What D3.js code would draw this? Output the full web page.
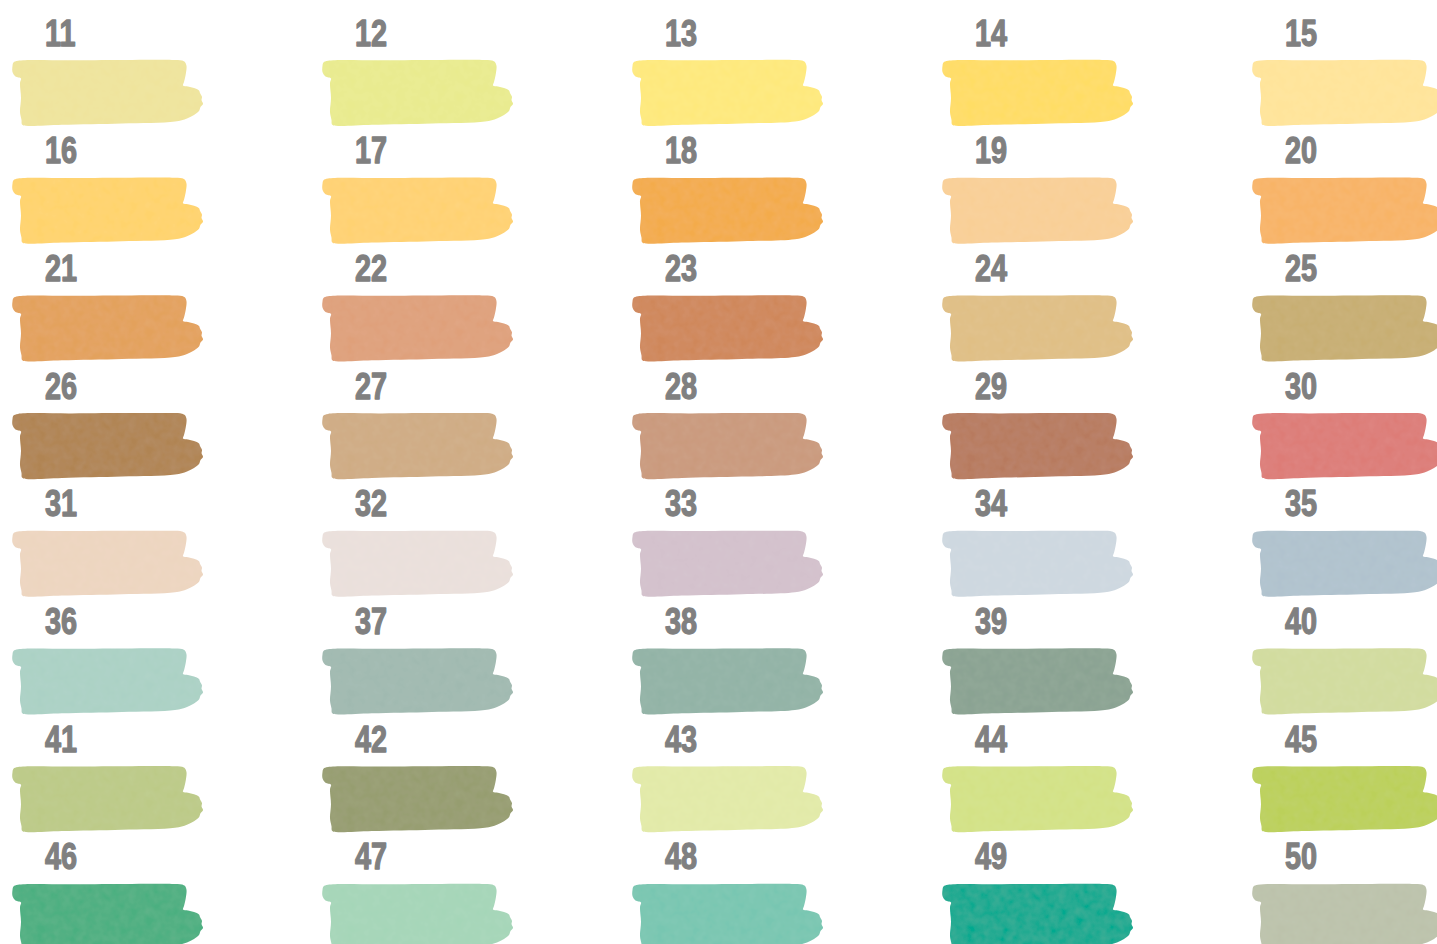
<!DOCTYPE html>
<html>
<head>
<meta charset="utf-8">
<script src="https://cdn.jsdelivr.net/npm/d3@7"></script>
<style>
  html, body { margin: 0; padding: 0; background: #ffffff; overflow: hidden; }
  svg { display: block; }
</style>
</head>
<body>
<svg id="chart" width="1437" height="944"></svg>
<script>
// ---- Data ----
const labels = ["11","12","13","14","15","16","17","18","19","20",
                "21","22","23","24","25","26","27","28","29","30",
                "31","32","33","34","35","36","37","38","39","40",
                "41","42","43","44","45","46","47","48","49","50"];
const colors = ["#efe49c","#e9eb8e","#fee97c","#ffdd65","#ffe49a",
                "#ffd36c","#ffd272","#f3ab4b","#f9cf96","#f8b466",
                "#e3a15c","#dfa07a","#cf875a","#e0bf85","#c8ae72",
                "#b08452","#cfac84","#ca9a7d","#b77a5f","#dd7c77",
                "#edd5c0","#eae0db","#d3c1cc","#ced8e0","#b0c2ce",
                "#abd1c5","#a0b9b0","#92b3a6","#8aa392","#d2dc9f",
                "#bcca87","#969d6f","#e2eaa8","#d3e286","#bbd05a",
                "#4caf80","#a5d6b8","#78c6b1","#03a98f","#bcc2ab"];
const nCols = 5;
const nRows = 8;

// ---- Layout ----
const svg = d3.select("#chart");
const xCol = d3.scaleLinear().domain([0, nCols - 1]).range([12, 12 + 310 * 4]);
const yRow = d3.scaleLinear().domain([0, nRows - 1]).range([60, 60 + 117.7 * 7]);

// brush-stroke swatch outline (relative to swatch's top-left)
const stroke = [[0.5,6],[1.5,2.5],[6,0.8],[60,0.3],[120,0],[160,0],[170,0.6],[173,2.2],[174.5,6],
  [173.8,14],[172,22],[171,25.5],[176,26.5],[182,28],[187,30.5],[188,33],[190,37],[189.5,40],[191,44],
  [188.5,47],[187,51],[182,55],[175,58.5],[163,61.5],[110,63.5],[50,64.8],[14,65.8],[10,64.5],
  [9.5,60],[8,52],[9,38],[8,23],[9,18.5],[3.5,16.5],[0.5,12]];
const shape = d3.line().curve(d3.curveCatmullRomClosed.alpha(0.5))(stroke);

const defs = svg.append("defs");
const f = defs.append("filter").attr("id","tex").attr("x","-5%").attr("y","-5%").attr("width","110%").attr("height","110%");
f.append("feTurbulence").attr("type","fractalNoise").attr("baseFrequency","0.12").attr("numOctaves",2).attr("seed",3).attr("result","n");
f.append("feColorMatrix").attr("in","n").attr("type","matrix")
  .attr("values","0 0 0 0 1  0 0 0 0 1  0 0 0 0 1  0 0 0 0.06 -0.01").attr("result","w");
f.append("feComposite").attr("in","w").attr("in2","SourceGraphic").attr("operator","in").attr("result","wi");
f.append("feMerge").selectAll("feMergeNode").data(["SourceGraphic","wi"]).enter()
  .append("feMergeNode").attr("in", d => d);

const cells = svg.selectAll("g.cell").data(labels).enter().append("g")
  .attr("class","cell")
  .attr("transform", (d, i) => `translate(${xCol(i % nCols)},${yRow(Math.floor(i / nCols))})`);

cells.append("path")
  .attr("d", shape)
  .attr("fill", (d, i) => colors[i])
  .attr("filter", "url(#tex)");

cells.append("text")
  .attr("transform", "translate(33,-14.5) scale(0.79,1)")
  .attr("font-family", "'Liberation Sans', Arial, sans-serif")
  .attr("font-weight", "bold")
  .attr("font-size", 36.5)
  .attr("fill", "#808080")
  .attr("stroke", "#808080")
  .attr("stroke-width", 1.3)
  .attr("stroke-linejoin", "round")
  .text(d => d);
</script>
</body>
</html>
